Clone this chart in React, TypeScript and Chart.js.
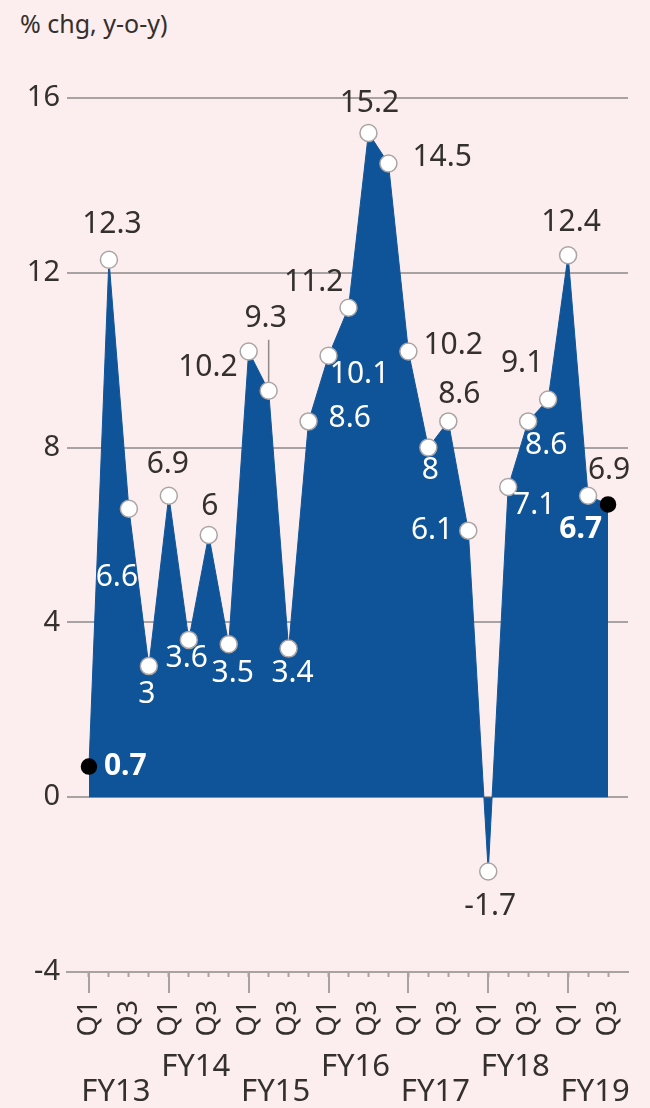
import React, { useEffect, useRef } from "react";
import { Chart, registerables } from "chart.js";

Chart.register(...registerables);

// ---------- data ----------
const quarterLabels = [
  "Q1", "Q2", "Q3", "Q4", // FY13
  "Q1", "Q2", "Q3", "Q4", // FY14
  "Q1", "Q2", "Q3", "Q4", // FY15
  "Q1", "Q2", "Q3", "Q4", // FY16
  "Q1", "Q2", "Q3", "Q4", // FY17
  "Q1", "Q2", "Q3", "Q4", // FY18
  "Q1", "Q2", "Q3", // FY19
];
const fiscalYears = ["FY13", "FY14", "FY15", "FY16", "FY17", "FY18", "FY19"];
const growth = [
  0.7, 12.3, 6.6, 3, 6.9, 3.6, 6, 3.5, 10.2, 9.3, 3.4, 8.6, 10.1, 11.2, 15.2,
  14.5, 10.2, 8, 8.6, 6.1, -1.7, 7.1, 8.6, 9.1, 12.4, 6.9, 6.7,
];
const pointLabels = growth.map((v) => String(v));
const yTickValues = [-4, 0, 4, 8, 12, 16];
const subtitle = "% chg, y-o-y)";

// ---------- styles ----------
const BG = "#fcedee";
const BLUE = "#0f5499";
const TEXT = "#33302e";
const GRID = "#a8a2a2";
const FONT = '"Noto Sans", sans-serif';

// label placement relative to each point: [dx, dy, align, tone, leader]
// tone: k = dark, w = white, wb = white bold
const labelLayout: [number, number, CanvasTextAlign, string, number][] = [
  [15, 0, "left", "wb", 0],
  [3, -35, "center", "k", 0],
  [-12, 69, "center", "w", 0],
  [-2, 28, "center", "w", 0],
  [-1, -31, "center", "k", 0],
  [-2, 19, "center", "w", 0],
  [1, -29, "center", "k", 0],
  [4, 29, "center", "w", 0],
  [-11, 16, "right", "k", 0],
  [-3, -72, "center", "k", 51],
  [4, 25, "center", "w", 0],
  [20, -3, "left", "w", 0],
  [31, 19, "center", "w", 0],
  [-5, -25, "right", "k", 0],
  [1, -30, "center", "k", 0],
  [24, -6, "left", "k", 0],
  [15, -6, "left", "k", 0],
  [2, 23, "center", "w", 0],
  [11, -27, "center", "k", 0],
  [-15, 0, "right", "w", 0],
  [2, 35, "center", "k", 0],
  [26, 19, "center", "w", 0],
  [18, 24, "center", "w", 0],
  [-26, -36, "center", "k", 0],
  [3, -33, "center", "k", 0],
  [21, -25, "center", "k", 0],
  [-6, 25, "right", "wb", 0],
];

const annotatePlugin = {
  id: "annotate",
  afterDatasetsDraw(chart: any) {
    const ctx = chart.ctx;
    const xs = chart.scales.x;
    const axisY = chart.chartArea.bottom;
    ctx.save();
    // longer ticks at the start of each fiscal year
    ctx.strokeStyle = GRID;
    ctx.lineWidth = 2;
    quarterLabels.forEach((q, i) => {
      if (q === "Q1") {
        const px = Math.round(xs.getPixelForValue(i));
        ctx.beginPath();
        ctx.moveTo(px, axisY);
        ctx.lineTo(px, axisY + 21);
        ctx.stroke();
      }
    });
    const meta = chart.getDatasetMeta(0);
    meta.data.forEach((pt: any, i: number) => {
      const [dx, dy, align, tone, leader] = labelLayout[i];
      if (leader) {
        ctx.strokeStyle = "#8f8a8a";
        ctx.lineWidth = 1.5;
        ctx.beginPath();
        ctx.moveTo(pt.x, pt.y - leader);
        ctx.lineTo(pt.x, pt.y - 9);
        ctx.stroke();
      }
      ctx.font = `${tone === "wb" ? "bold " : ""}30px ${FONT}`;
      ctx.fillStyle = tone === "k" ? TEXT : "#ffffff";
      ctx.textAlign = align;
      ctx.textBaseline = "middle";
      ctx.fillText(pointLabels[i], pt.x + dx, pt.y + dy);
    });
    ctx.restore();
  },
};

export default function App() {
  const canvasRef = useRef<HTMLCanvasElement | null>(null);

  useEffect(() => {
    document.body.style.margin = "0";
    document.body.style.background = BG;
    const canvas = canvasRef.current;
    if (!canvas) return;
    const last = growth.length - 1;
    const chart = new Chart(canvas, {
      type: "line",
      data: {
        datasets: [
          {
            data: growth.map((v, i) => ({ x: i, y: v })),
            fill: "origin",
            backgroundColor: BLUE,
            borderColor: BLUE,
            borderWidth: 1,
            tension: 0,
            pointRadius: (c: any) => (c.dataIndex === 0 || c.dataIndex === last ? 7.5 : 8.5),
            pointBackgroundColor: (c: any) =>
              c.dataIndex === 0 || c.dataIndex === last ? "#000000" : "#ffffff",
            pointBorderColor: (c: any) =>
              c.dataIndex === 0 || c.dataIndex === last ? "#000000" : "#aaa5a5",
            pointBorderWidth: 1.5,
          },
        ],
      },
      options: {
        animation: false,
        responsive: false,
        devicePixelRatio: 1,
        layout: { autoPadding: false, padding: { top: 98, right: 22, left: 0, bottom: 0 } },
        plugins: { legend: { display: false }, tooltip: { enabled: false } },
        scales: {
          x: {
            type: "linear",
            min: -1.1,
            max: 27,
            weight: 0,
            afterBuildTicks: (axis: any) => {
              axis.ticks = quarterLabels.map((_, i) => ({ value: i }));
            },
            afterFit: (axis: any) => {
              axis.height = 70;
              axis.paddingLeft = 0;
              axis.paddingRight = 0;
            },
            grid: {
              drawOnChartArea: false,
              drawTicks: true,
              tickLength: 5,
              tickColor: GRID,
              tickWidth: 2,
            },
            border: { display: true, color: GRID, width: 2 },
            ticks: {
              autoSkip: false,
              minRotation: 90,
              maxRotation: 90,
              padding: 23,
              color: TEXT,
              font: { family: FONT, size: 27 },
              callback: (v: any) => {
                const q = quarterLabels[v];
                return q === "Q1" || q === "Q3" ? q : "";
              },
            },
          },
          x2: {
            type: "linear",
            position: "bottom",
            min: -1.1,
            max: 27,
            weight: 1,
            afterBuildTicks: (axis: any) => {
              axis.ticks = fiscalYears.map((_, k) => ({ value: k * 4 + 1.35 }));
            },
            afterFit: (axis: any) => {
              axis.height = 66;
              axis.paddingLeft = 0;
              axis.paddingRight = 0;
            },
            grid: { display: false },
            border: { display: false },
            ticks: {
              autoSkip: false,
              maxRotation: 0,
              minRotation: 0,
              padding: 5,
              color: TEXT,
              font: { family: FONT, size: 31, lineHeight: "25px" },
              callback: (_v: any, index: number) =>
                index % 2 === 0 ? ["", fiscalYears[index]] : [fiscalYears[index], ""],
            },
          },
          y: {
            min: -4,
            max: 16,
            afterBuildTicks: (axis: any) => {
              axis.ticks = yTickValues.map((v) => ({ value: v }));
            },
            afterFit: (axis: any) => {
              axis.width = 67;
              axis.paddingTop = 0;
              axis.paddingBottom = 0;
            },
            grid: {
              color: (c: any) => (c.tick && c.tick.value === -4 ? "rgba(0,0,0,0)" : GRID),
              lineWidth: 2,
              drawTicks: false,
            },
            border: { display: false },
            ticks: {
              padding: 7,
              color: TEXT,
              font: { family: FONT, size: 29 },
            },
          },
        },
      },
      plugins: [annotatePlugin],
    } as any);
    return () => chart.destroy();
  }, []);

  return (
    <div
      style={{
        position: "absolute",
        left: 0,
        top: 0,
        width: 650,
        height: 1108,
        background: BG,
        overflow: "hidden",
      }}
    >
      <div
        style={{
          position: "absolute",
          left: 20,
          top: 11,
          fontFamily: FONT,
          fontSize: 25,
          lineHeight: "25px",
          color: TEXT,
          whiteSpace: "nowrap",
        }}
      >
        {subtitle}
      </div>
      <canvas
        ref={canvasRef}
        width={650}
        height={1108}
        style={{ position: "absolute", left: 0, top: 0, width: 650, height: 1108 }}
      />
    </div>
  );
}
